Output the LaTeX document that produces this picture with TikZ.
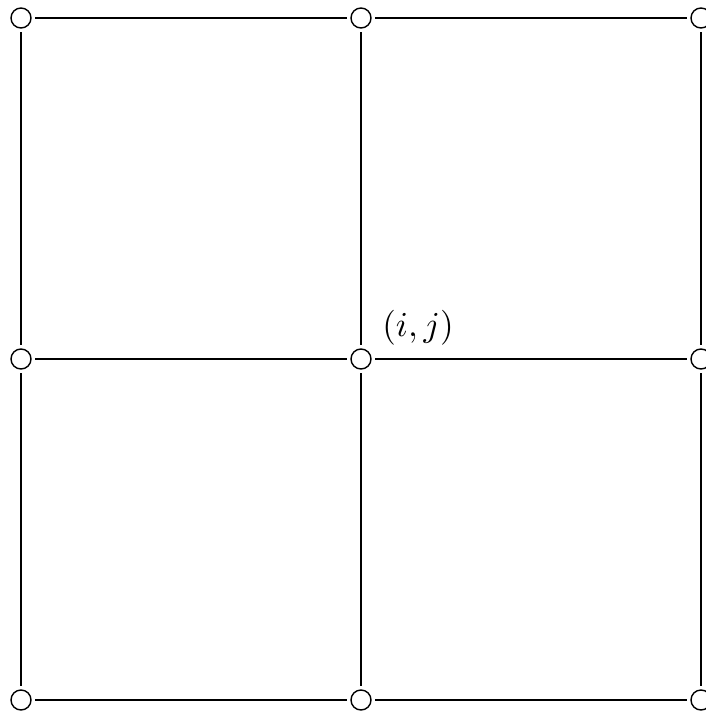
\documentclass[tikz,border=0pt]{standalone}
\usepackage{graphicx}
\begin{document}
\begin{tikzpicture}[x=1pt,y=-1pt,
  vert/.style={circle,draw,line width=1.4pt,minimum size=20pt,inner sep=0pt},
  edge/.style={line width=2pt,shorten <=3.5pt,shorten >=3.5pt}]
\useasboundingbox (0,0) rectangle (706,715);
\foreach \c/\x in {0/21,1/361,2/701}
  \foreach \r/\y in {0/18,1/359,2/700}
    \node[vert] (n\c\r) at (\x,\y) {};
\foreach \r in {0,1,2}{
  \draw[edge] (n0\r) -- (n1\r);
  \draw[edge] (n1\r) -- (n2\r);}
\foreach \c in {0,1,2}{
  \draw[edge] (n\c0) -- (n\c1);
  \draw[edge] (n\c1) -- (n\c2);}
\node[inner sep=0pt] (lab) at (418,327.5) {\scalebox{3.5}{$(i,j)$}};
\end{tikzpicture}
\end{document}
